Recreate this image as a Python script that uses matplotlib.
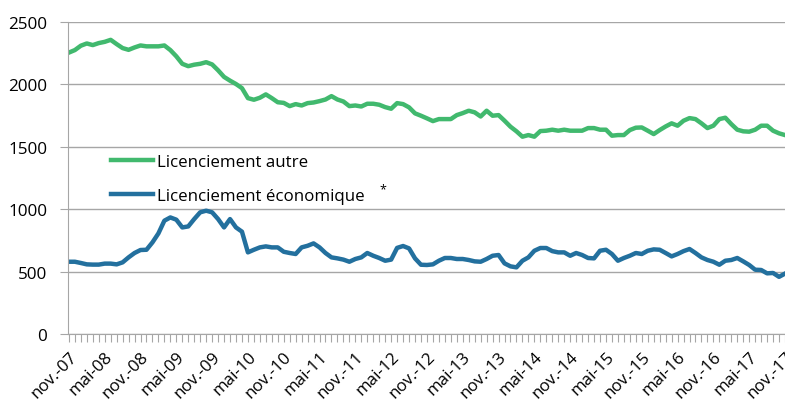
import matplotlib.pyplot as plt
import matplotlib.transforms as mtransforms

plt.rcParams['font.family'] = ['Open Sans', 'DejaVu Sans']

# monthly series, nov-07 .. nov-17
autre = [2255, 2275, 2310, 2328, 2315, 2331, 2341, 2357, 2323, 2291,
         2277, 2296, 2312, 2305, 2305, 2305, 2312, 2275, 2225, 2165,
         2146, 2158, 2165, 2178, 2160, 2113, 2060, 2030, 2003, 1970,
         1890, 1877, 1893, 1920, 1890, 1857, 1852, 1826, 1842, 1831,
         1850, 1855, 1866, 1879, 1906, 1879, 1863, 1826, 1831, 1823,
         1845, 1845, 1837, 1818, 1805, 1850, 1842, 1816, 1768, 1749,
         1728, 1706, 1722, 1722, 1722, 1754, 1770, 1789, 1776, 1743,
         1789, 1749, 1754, 1709, 1661, 1624, 1581, 1594, 1581, 1626,
         1629, 1637, 1629, 1637, 1629, 1629, 1629, 1650, 1650, 1637,
         1637, 1589, 1594, 1594, 1634, 1653, 1655, 1629, 1602, 1634,
         1663, 1688, 1669, 1709, 1730, 1722, 1688, 1650, 1669, 1722,
         1733, 1682, 1637, 1624, 1621, 1637, 1669, 1669, 1629, 1608,
         1594]
economique = [579, 579, 569, 558, 556, 556, 564, 564, 558, 574,
              614, 649, 673, 675, 734, 806, 908, 934, 916, 854,
              862, 921, 975, 988, 975, 921, 854, 921, 854, 820,
              654, 675, 694, 702, 694, 694, 659, 649, 641, 694,
              707, 726, 694, 649, 614, 606, 596, 579, 601, 614,
              649, 627, 609, 587, 596, 690, 705, 686, 606, 555,
              553, 558, 587, 609, 609, 601, 601, 593, 582, 579,
              601, 627, 633, 566, 542, 534, 587, 614, 667, 689,
              689, 664, 654, 654, 627, 649, 633, 609, 606, 667,
              675, 641, 587, 609, 627, 649, 641, 667, 678, 675,
              649, 622, 641, 664, 681, 649, 614, 593, 579, 555,
              587, 593, 609, 582, 553, 515, 513, 486, 489, 458,
              484]

months = ['nov.-', 'mai-']
labels = []
for k in range(21):
    year = 7 + (k + 1) // 2
    labels.append(f"{months[k % 2]}{year:02d}")

fig = plt.figure(figsize=(7.85, 4.06), dpi=100)
ax = fig.add_axes([68 / 785, 1 - 335 / 406, 717 / 785, 312 / 406])

x = list(range(len(autre)))
ax.plot(x, autre, color='#41b96e', linewidth=3.2, label='Licenciement autre',
        solid_joinstyle='round')
ax.plot(x, economique, color='#23709e', linewidth=3.2,
        label='Licenciement économique', solid_joinstyle='round')

ax.set_xlim(-0.15, 120)
ax.set_ylim(0, 2500)
ax.set_yticks([0, 500, 1000, 1500, 2000, 2500])
ax.grid(axis='y', color='#a6a6a6', linewidth=1.0)
ax.set_axisbelow(True)

ax.set_xticks(x)
ax.set_xticklabels([labels[i // 6] if i % 6 == 0 else '' for i in x],
                   rotation=45, ha='right', rotation_mode='anchor',
                   fontsize=12.2)
offset = mtransforms.ScaledTranslation(7 / 100, 0, fig.dpi_scale_trans)
for lab in ax.get_xticklabels():
    lab.set_transform(lab.get_transform() + offset)

ax.tick_params(axis='x', length=6, color='#a6a6a6', pad=4)
ax.tick_params(axis='y', length=6, color='#a6a6a6', labelsize=12.3, pad=9)

for side in ['top', 'right']:
    ax.spines[side].set_visible(False)
for side in ['left', 'bottom']:
    ax.spines[side].set_color('#a6a6a6')

ax.legend(loc='upper left', bbox_to_anchor=(36 / 717, 187 / 312),
          frameon=False, fontsize=12.2, handlelength=2.5, handletextpad=0.2,
          labelspacing=1.1, borderaxespad=0)
fig.text(383 / 785, 1 - 190 / 406, '*', fontsize=9, ha='center', va='center')

fig.savefig('out.png', dpi=100)
